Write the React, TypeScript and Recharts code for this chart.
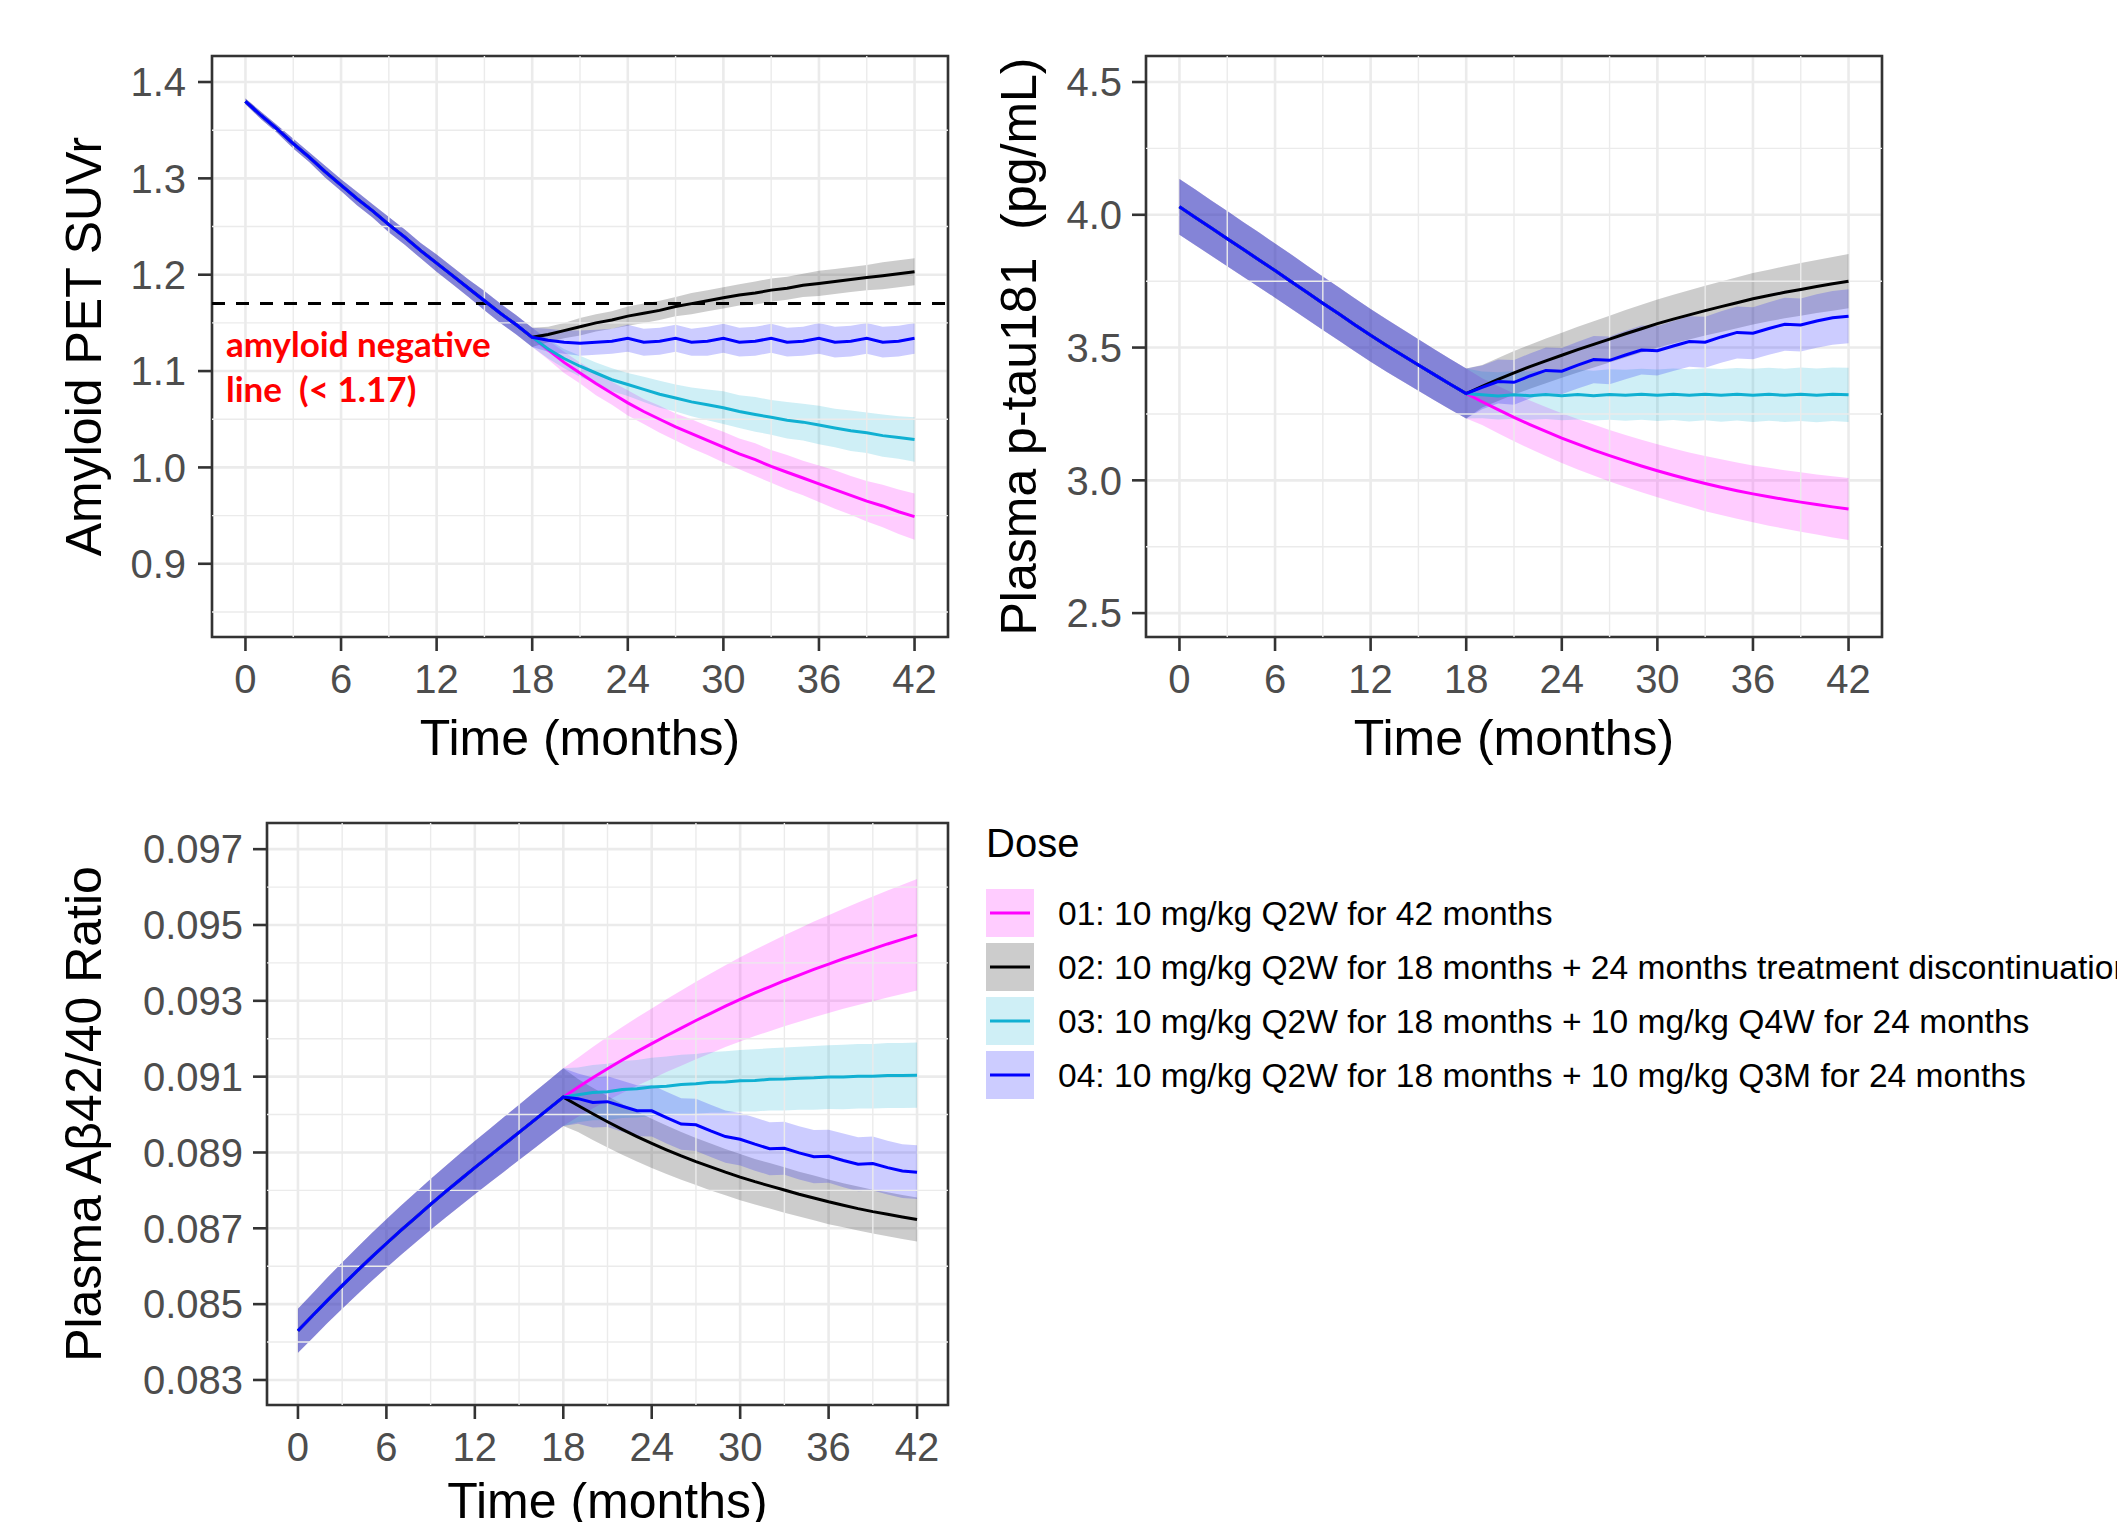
import React from 'react';
import {
  ComposedChart,
  Line,
  Area,
  XAxis,
  YAxis,
  CartesianGrid,
  ReferenceLine,
  ReferenceArea,
  Label,
  Legend,
} from 'recharts';

const FONT = '"Liberation Sans", Arial, Helvetica, sans-serif';
const GRID = '#EBEBEB';
const INK = '#333333';

// time axis
const months = [0, 1, 2, 3, 4, 5, 6, 7, 8, 9, 10, 11, 12, 13, 14, 15, 16, 17, 18, 19, 20, 21, 22, 23, 24, 25, 26, 27, 28, 29, 30, 31, 32, 33, 34, 35, 36, 37, 38, 39, 40, 41, 42];
const monthTicks = [0, 6, 12, 18, 24, 30, 36, 42];
const monthMinor = [3, 9, 15, 21, 27, 33, 39];

const doseLabels = [
  '01: 10 mg/kg Q2W for 42 months',
  '02: 10 mg/kg Q2W for 18 months + 24 months treatment discontinuation',
  '03: 10 mg/kg Q2W for 18 months + 10 mg/kg Q4W for 24 months',
  '04: 10 mg/kg Q2W for 18 months + 10 mg/kg Q3M for 24 months',
];
const doseColors = ['#FF00FF', '#000000', '#10B0D2', '#0000FF'];

// Amyloid PET SUVr (months 0-18 shared, then 19-42 per dose)
const amyTicks = [0.9, 1.0, 1.1, 1.2, 1.3, 1.4];
const amyMinor = [0.85, 0.95, 1.05, 1.15, 1.25, 1.35];
const amyPre = [1.380, 1.365, 1.351, 1.336, 1.322, 1.307, 1.293, 1.279, 1.266, 1.252, 1.239, 1.225, 1.212, 1.199, 1.186, 1.173, 1.160, 1.148, 1.135];
const amyPreBand = [0.003, 0.004, 0.004, 0.005, 0.005, 0.006, 0.006, 0.007, 0.007, 0.008, 0.008, 0.008, 0.009, 0.009, 0.009, 0.010, 0.010, 0.010, 0.010];
const amyDose1 = [1.122, 1.109, 1.098, 1.087, 1.077, 1.067, 1.058, 1.050, 1.042, 1.035, 1.028, 1.021, 1.014, 1.008, 1.001, 0.995, 0.989, 0.983, 0.977, 0.971, 0.965, 0.960, 0.954, 0.949];
const amyDose1Band = [0.010, 0.011, 0.011, 0.012, 0.012, 0.013, 0.013, 0.014, 0.014, 0.015, 0.015, 0.016, 0.016, 0.017, 0.017, 0.018, 0.018, 0.019, 0.020, 0.020, 0.021, 0.022, 0.023, 0.024];
const amyDose2 = [1.138, 1.142, 1.146, 1.150, 1.153, 1.157, 1.160, 1.163, 1.167, 1.170, 1.173, 1.176, 1.179, 1.181, 1.184, 1.186, 1.189, 1.191, 1.193, 1.195, 1.197, 1.199, 1.201, 1.203];
const amyDose2Band = [0.008, 0.008, 0.009, 0.009, 0.009, 0.010, 0.010, 0.010, 0.010, 0.011, 0.011, 0.011, 0.011, 0.012, 0.012, 0.012, 0.012, 0.013, 0.013, 0.013, 0.013, 0.014, 0.014, 0.014];
const amyDose3 = [1.123, 1.113, 1.105, 1.098, 1.091, 1.086, 1.081, 1.076, 1.072, 1.068, 1.065, 1.062, 1.058, 1.055, 1.052, 1.049, 1.047, 1.044, 1.041, 1.038, 1.036, 1.033, 1.031, 1.029];
const amyDose3Band = [0.010, 0.010, 0.011, 0.011, 0.012, 0.012, 0.013, 0.014, 0.014, 0.015, 0.016, 0.017, 0.017, 0.018, 0.018, 0.019, 0.019, 0.020, 0.020, 0.021, 0.021, 0.022, 0.022, 0.023];
const amyDose4 = [1.132, 1.130, 1.129, 1.130, 1.131, 1.134, 1.130, 1.131, 1.134, 1.130, 1.131, 1.134, 1.130, 1.131, 1.134, 1.130, 1.131, 1.134, 1.130, 1.131, 1.134, 1.130, 1.131, 1.134];
const amyDose4Band = [0.012, 0.012, 0.013, 0.013, 0.013, 0.014, 0.014, 0.014, 0.014, 0.014, 0.015, 0.015, 0.015, 0.015, 0.015, 0.015, 0.015, 0.016, 0.016, 0.016, 0.016, 0.016, 0.016, 0.016];
const amyNegative = 1.17;

// Plasma p-tau181
const tauTicks = [2.5, 3.0, 3.5, 4.0, 4.5];
const tauMinor = [2.75, 3.25, 3.75, 4.25];
const tauPre = [4.030, 3.990, 3.950, 3.910, 3.870, 3.830, 3.790, 3.749, 3.708, 3.667, 3.627, 3.586, 3.546, 3.508, 3.471, 3.434, 3.398, 3.362, 3.327];
const tauPreBand = [0.105, 0.105, 0.104, 0.104, 0.103, 0.103, 0.102, 0.102, 0.101, 0.101, 0.100, 0.100, 0.099, 0.099, 0.098, 0.097, 0.096, 0.095, 0.094];
const tauDose1 = [3.296, 3.266, 3.237, 3.210, 3.184, 3.159, 3.136, 3.114, 3.093, 3.073, 3.054, 3.036, 3.019, 3.003, 2.988, 2.974, 2.961, 2.949, 2.938, 2.928, 2.918, 2.909, 2.900, 2.892];
const tauDose1Band = [0.088, 0.089, 0.090, 0.091, 0.092, 0.094, 0.095, 0.096, 0.097, 0.098, 0.099, 0.100, 0.101, 0.102, 0.104, 0.105, 0.106, 0.107, 0.109, 0.110, 0.112, 0.113, 0.115, 0.117];
const tauDose2 = [3.354, 3.380, 3.405, 3.428, 3.450, 3.471, 3.492, 3.512, 3.532, 3.552, 3.571, 3.590, 3.607, 3.623, 3.639, 3.654, 3.669, 3.684, 3.696, 3.708, 3.719, 3.730, 3.740, 3.750];
const tauDose2Band = [0.080, 0.081, 0.082, 0.083, 0.084, 0.085, 0.086, 0.087, 0.088, 0.089, 0.090, 0.091, 0.092, 0.093, 0.094, 0.095, 0.096, 0.097, 0.097, 0.098, 0.099, 0.100, 0.101, 0.102];
const tauDose3 = [3.322, 3.318, 3.322, 3.319, 3.323, 3.319, 3.323, 3.319, 3.323, 3.320, 3.324, 3.320, 3.324, 3.320, 3.324, 3.320, 3.324, 3.320, 3.324, 3.320, 3.324, 3.320, 3.324, 3.322];
const tauDose3Band = [0.088, 0.089, 0.090, 0.091, 0.092, 0.093, 0.094, 0.094, 0.095, 0.096, 0.096, 0.097, 0.097, 0.098, 0.098, 0.099, 0.099, 0.100, 0.100, 0.100, 0.101, 0.101, 0.101, 0.102];
const tauDose4 = [3.350, 3.372, 3.369, 3.393, 3.414, 3.411, 3.434, 3.455, 3.452, 3.472, 3.491, 3.488, 3.506, 3.523, 3.520, 3.540, 3.557, 3.554, 3.572, 3.588, 3.585, 3.600, 3.612, 3.618];
const tauDose4Band = [0.082, 0.083, 0.084, 0.085, 0.086, 0.087, 0.088, 0.089, 0.090, 0.091, 0.092, 0.093, 0.094, 0.095, 0.096, 0.097, 0.098, 0.098, 0.099, 0.100, 0.100, 0.101, 0.101, 0.102];

// Plasma Abeta42/40 ratio
const abTicks = [0.083, 0.085, 0.087, 0.089, 0.091, 0.093, 0.095, 0.097];
const abMinor = [0.084, 0.086, 0.088, 0.090, 0.092, 0.094, 0.096];
const abPre = [0.08430, 0.08470, 0.08510, 0.08549, 0.08587, 0.08624, 0.08660, 0.08695, 0.08729, 0.08763, 0.08796, 0.08828, 0.08860, 0.08891, 0.08922, 0.08953, 0.08984, 0.09015, 0.09046];
const abPreBand = [0.00058, 0.00059, 0.00060, 0.00061, 0.00062, 0.00063, 0.00064, 0.00065, 0.00066, 0.00067, 0.00068, 0.00069, 0.00070, 0.00071, 0.00072, 0.00073, 0.00074, 0.00075, 0.00076];
const abDose1 = [0.09072, 0.09097, 0.09121, 0.09144, 0.09166, 0.09187, 0.09208, 0.09228, 0.09248, 0.09267, 0.09286, 0.09304, 0.09321, 0.09337, 0.09353, 0.09368, 0.09383, 0.09397, 0.09411, 0.09424, 0.09437, 0.09450, 0.09462, 0.09474];
const abDose1Band = [0.00078, 0.00081, 0.00084, 0.00087, 0.00090, 0.00093, 0.00096, 0.00099, 0.00102, 0.00105, 0.00108, 0.00111, 0.00114, 0.00117, 0.00120, 0.00123, 0.00126, 0.00129, 0.00132, 0.00135, 0.00138, 0.00141, 0.00144, 0.00147];
const abDose2 = [0.09024, 0.09002, 0.08981, 0.08961, 0.08942, 0.08924, 0.08907, 0.08891, 0.08876, 0.08862, 0.08848, 0.08835, 0.08823, 0.08812, 0.08801, 0.08790, 0.08780, 0.08770, 0.08761, 0.08752, 0.08744, 0.08737, 0.08730, 0.08723];
const abDose2Band = [0.00070, 0.00069, 0.00068, 0.00067, 0.00066, 0.00065, 0.00064, 0.00063, 0.00062, 0.00062, 0.00061, 0.00061, 0.00060, 0.00060, 0.00060, 0.00059, 0.00059, 0.00059, 0.00058, 0.00058, 0.00058, 0.00058, 0.00058, 0.00058];
const abDose3 = [0.09052, 0.09058, 0.09060, 0.09066, 0.09068, 0.09073, 0.09075, 0.09079, 0.09081, 0.09085, 0.09086, 0.09089, 0.09090, 0.09093, 0.09094, 0.09096, 0.09097, 0.09099, 0.09099, 0.09101, 0.09101, 0.09103, 0.09103, 0.09104];
const abDose3Band = [0.00072, 0.00073, 0.00074, 0.00075, 0.00076, 0.00077, 0.00078, 0.00079, 0.00079, 0.00080, 0.00081, 0.00081, 0.00082, 0.00082, 0.00083, 0.00083, 0.00084, 0.00084, 0.00085, 0.00085, 0.00085, 0.00086, 0.00086, 0.00086];
const abDose4 = [0.09042, 0.09032, 0.09034, 0.09022, 0.09010, 0.09010, 0.08992, 0.08975, 0.08973, 0.08957, 0.08942, 0.08935, 0.08922, 0.08910, 0.08911, 0.08899, 0.08889, 0.08890, 0.08879, 0.08869, 0.08871, 0.08860, 0.08851, 0.08848];
const abDose4Band = [0.00066, 0.00066, 0.00067, 0.00067, 0.00067, 0.00068, 0.00068, 0.00068, 0.00069, 0.00069, 0.00069, 0.00069, 0.00070, 0.00070, 0.00070, 0.00070, 0.00070, 0.00070, 0.00071, 0.00071, 0.00071, 0.00071, 0.00071, 0.00071];

type Row = { t: number; [key: string]: any };

// shared part up to month 18, each dose's own values after that
const buildRows = (pre: number[], preBand: number[], post: number[][], postBand: number[][]): Row[] =>
  months.map((t, i) => {
    const row: Row = { t };
    post.forEach((vals, k) => {
      const v = i < pre.length ? pre[i] : vals[i - pre.length];
      const w = i < pre.length ? preBand[i] : postBand[k][i - pre.length];
      row[`m${k}`] = v;
      row[`b${k}`] = [v - w, v + w];
    });
    return row;
  });

const amyRows = buildRows(amyPre, amyPreBand, [amyDose1, amyDose2, amyDose3, amyDose4], [amyDose1Band, amyDose2Band, amyDose3Band, amyDose4Band]);
const tauRows = buildRows(tauPre, tauPreBand, [tauDose1, tauDose2, tauDose3, tauDose4], [tauDose1Band, tauDose2Band, tauDose3Band, tauDose4Band]);
const abRows = buildRows(abPre, abPreBand, [abDose1, abDose2, abDose3, abDose4], [abDose1Band, abDose2Band, abDose3Band, abDose4Band]);

const X_DOMAIN: [number, number] = [-2.1, 44.1];

interface PanelProps {
  rows: Row[];
  width: number;
  height: number;
  top: number;
  right: number;
  yWidth: number;
  xHeight: number;
  yDomain: [number, number];
  yTicks: number[];
  yMinor: number[];
  digits: number;
  yTitle: string;
  yTitleX: number;
  xTitleDy: number;
  tickMargin: number;
  extra?: React.ReactNode;
  legend?: boolean;
}

const DoseLegend = () => (
  <svg width={1137} height={300} style={{ display: 'block' }}>
    <text x={6} y={47} fontSize={40} fontFamily={FONT} fill="#000">Dose</text>
    {doseLabels.map((lab, k) => (
      <g key={lab} transform={`translate(6, ${79 + 54 * k})`}>
        <rect width={48} height={48} fill={doseColors[k]} fillOpacity={0.2} />
        <line x1={4} x2={44} y1={24} y2={24} stroke={doseColors[k]} strokeWidth={3} />
        <text x={72} y={36} fontSize={33.6} fontFamily={FONT} fill="#000">{lab}</text>
      </g>
    ))}
  </svg>
);

const renderPanel = (p: PanelProps) => (
  <ComposedChart
    width={p.width}
    height={p.height}
    data={p.rows}
    margin={{ top: p.top, right: p.right, left: 0, bottom: 0 }}
  >
    <CartesianGrid stroke={GRID} strokeWidth={2.6} />
    {monthMinor.map((v) => (
      <ReferenceLine key={`mx${v}`} x={v} stroke={GRID} strokeWidth={1.4} />
    ))}
    {p.yMinor.map((v) => (
      <ReferenceLine key={`my${v}`} y={v} stroke={GRID} strokeWidth={1.4} />
    ))}
    <XAxis
      dataKey="t"
      type="number"
      domain={X_DOMAIN}
      ticks={monthTicks}
      interval={0}
      allowDataOverflow
      height={p.xHeight}
      axisLine={false}
      tickSize={14}
      tickMargin={14}
      tickLine={{ stroke: INK, strokeWidth: 2.6 }}
      tick={{ fontSize: 40, fill: '#4D4D4D', fontFamily: FONT }}
    >
      <Label
        content={(lp: any) => {
          const vb = lp.viewBox || {};
          return (
            <text
              x={vb.x + vb.width / 2}
              y={vb.y + p.xTitleDy}
              textAnchor="middle"
              dominantBaseline="central"
              fontSize={50}
              fontFamily={FONT}
              fill="#000"
            >
              Time (months)
            </text>
          );
        }}
      />
    </XAxis>
    <YAxis
      type="number"
      domain={p.yDomain}
      ticks={p.yTicks}
      interval={0}
      allowDataOverflow
      width={p.yWidth}
      axisLine={false}
      tickSize={14}
      tickMargin={p.tickMargin}
      tickLine={{ stroke: INK, strokeWidth: 2.6 }}
      tick={{ fontSize: 40, fill: '#4D4D4D', fontFamily: FONT }}
      tickFormatter={(v: number) => v.toFixed(p.digits)}
    >
      <Label
        content={(lp: any) => {
          const vb = lp.viewBox || {};
          const cx = vb.x + p.yTitleX;
          const cy = vb.y + vb.height / 2;
          return (
            <text
              x={cx}
              y={cy}
              transform={`rotate(-90 ${cx} ${cy})`}
              textAnchor="middle"
              dominantBaseline="central"
              fontSize={50}
              fontFamily={FONT}
              fill="#000"
              style={{ whiteSpace: 'pre' }}
            >
              {p.yTitle}
            </text>
          );
        }}
      />
    </YAxis>
    {doseColors.map((c, k) => (
      <Area
        key={`band${k}`}
        dataKey={`b${k}`}
        type="linear"
        fill={c}
        fillOpacity={0.2}
        stroke="none"
        isAnimationActive={false}
      />
    ))}
    {p.extra}
    {doseColors.map((c, k) => (
      <Line
        key={`line${k}`}
        dataKey={`m${k}`}
        type="linear"
        stroke={c}
        strokeWidth={3}
        dot={false}
        activeDot={false}
        isAnimationActive={false}
      />
    ))}
    <ReferenceArea
      x1={X_DOMAIN[0]}
      x2={X_DOMAIN[1]}
      y1={p.yDomain[0]}
      y2={p.yDomain[1]}
      fill="none"
      fillOpacity={0}
      stroke={INK}
      strokeWidth={2.6}
      ifOverflow="visible"
    />
    {p.legend && (
      <Legend
        layout="vertical"
        align="center"
        verticalAlign="middle"
        wrapperStyle={{ left: 980, top: 20, width: 1137 }}
        content={() => <DoseLegend />}
      />
    )}
  </ComposedChart>
);

const negativeLine = (
  <ReferenceLine y={amyNegative} stroke="#000" strokeWidth={3} strokeDasharray="13 11">
    <Label
      content={(lp: any) => {
        const vb = lp.viewBox || {};
        return (
          <text
            x={vb.x + 14}
            y={vb.y + 53}
            fontSize={35}
            fontWeight={700}
            fontFamily='Lato, "Liberation Sans", sans-serif'
            fill="#FF0000"
            style={{ whiteSpace: 'pre' }}
          >
            <tspan x={vb.x + 14}>amyloid negative</tspan>
            <tspan x={vb.x + 14} dy={45}>{'line  (< 1.17)'}</tspan>
          </text>
        );
      }}
    />
  </ReferenceLine>
);

export default function App() {
  return (
    <div
      style={{
        position: 'absolute',
        left: 0,
        top: 0,
        width: 2117,
        height: 1522,
        background: '#fff',
        overflow: 'hidden',
      }}
    >
      <div style={{ position: 'absolute', left: 0, top: 0 }}>
        {renderPanel({
          rows: amyRows,
          width: 970,
          height: 790,
          top: 56,
          right: 22,
          yWidth: 212,
          xHeight: 153,
          yDomain: [0.824, 1.427],
          yTicks: amyTicks,
          yMinor: amyMinor,
          digits: 1,
          yTitle: 'Amyloid PET SUVr',
          yTitleX: 84,
          xTitleDy: 101,
          tickMargin: 12,
          extra: negativeLine,
        })}
      </div>
      <div style={{ position: 'absolute', left: 970, top: 0 }}>
        {renderPanel({
          rows: tauRows,
          width: 930,
          height: 790,
          top: 56,
          right: 18,
          yWidth: 176,
          xHeight: 153,
          yDomain: [2.41, 4.598],
          yTicks: tauTicks,
          yMinor: tauMinor,
          digits: 1,
          yTitle: 'Plasma p-tau181  (pg/mL)',
          yTitleX: 49,
          xTitleDy: 101,
          tickMargin: 10,
        })}
      </div>
      <div style={{ position: 'absolute', left: 0, top: 790 }}>
        {renderPanel({
          rows: abRows,
          width: 2117,
          height: 732,
          top: 33,
          right: 1169,
          yWidth: 267,
          xHeight: 117,
          yDomain: [0.08234, 0.09769],
          yTicks: abTicks,
          yMinor: abMinor,
          digits: 3,
          yTitle: 'Plasma Aβ42/40 Ratio',
          yTitleX: 84,
          xTitleDy: 96,
          tickMargin: 10,
          legend: true,
        })}
      </div>
    </div>
  );
}
